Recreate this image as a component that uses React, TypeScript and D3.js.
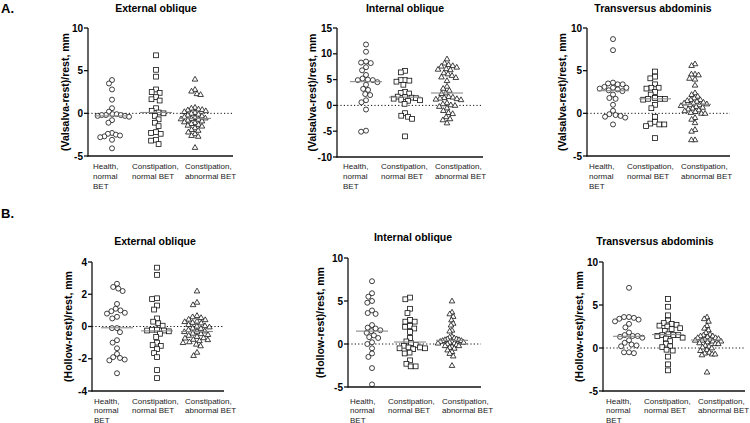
import React from "react";
import * as d3 from "d3";

const categories: string[][] = [
  ["Health,", "normal", "BET"],
  ["Constipation,", "normal BET"],
  ["Constipation,", "abnormal BET"],
];
const muscles = ["External oblique", "Internal oblique", "Transversus abdominis"];
const yLabelA = "(Valsalva-rest)/rest, mm";
const yLabelB = "(Hollow-rest)/rest, mm";
const ticksA1 = [-5, 0, 5, 10];
const ticksA2 = [-10, -5, 0, 5, 10, 15];
const ticksB1 = [-4, -2, 0, 2, 4];
const ticks5 = [-5, 0, 5, 10];

// A. Valsalva — External oblique
const a1Health = [3.9, 3.5, 2.8, 1.6, 0.6, 0.2, -0.1, -0.1, -0.2, -0.2, -0.2, -0.3, -0.3, -0.4, -0.8, -1.1, -2.3, -2.4, -2.5, -2.6, -2.7, -2.8, -3.1, -4.1];
const a1Normal = [6.8, 5.1, 4.3, 2.8, 2.5, 2.4, 1.9, 1.65, 1.5, 0.6, 0.3, 0.1, 0.0, -0.3, -0.7, -1.1, -1.5, -2.2, -2.3, -2.4, -3.1, -3.2, -3.6];
const a1Abn = [4.0, 2.8, 2.6, 2.3, 2.2, 0.7, 0.6, 0.5, 0.45, 0.4, 0.3, 0.2, 0.1, 0.0, -0.1, -0.2, -0.3, -0.4, -0.5, -0.55, -0.6, -0.65, -0.7, -0.8, -0.9, -1.0, -1.1, -1.2, -1.3, -1.4, -1.5, -1.7, -1.9, -2.0, -2.2, -2.4, -2.6, -2.7, -4.0];
const a1Median = [-0.3, 0.1, -0.6];

// A. Valsalva — Internal oblique
const a2Health = [11.8, 10.4, 8.5, 8.3, 8.2, 7.4, 6.8, 5.9, 5.2, 5.0, 4.9, 4.9, 4.5, 4.0, 3.2, 3.0, 2.2, 2.0, 1.0, 0.6, -0.8, -4.9, -5.1];
const a2Normal = [6.7, 6.4, 4.9, 4.9, 4.8, 4.6, 4.0, 2.6, 2.4, 2.3, 1.7, 1.6, 1.5, 1.4, 1.3, 1.1, 1.0, 0.9, 0.3, -1.5, -2.0, -2.2, -2.6, -6.0];
const a2Abn = [9.0, 8.2, 7.9, 7.7, 7.6, 7.4, 7.1, 7.0, 6.9, 6.3, 6.1, 5.8, 5.5, 5.4, 4.8, 3.7, 3.3, 2.9, 2.4, 2.3, 1.7, 1.6, 1.5, 1.4, 1.3, 1.2, 1.1, 0.5, 0.3, 0.1, 0.0, -0.2, -0.5, -1.0, -1.4, -1.6, -2.2, -2.6, -2.8, -3.4];
const a2Median = [4.6, 1.6, 2.4];

// A. Valsalva — Transversus abdominis
const a3Health = [8.7, 7.4, 3.6, 3.5, 3.4, 3.4, 3.1, 3.0, 3.0, 2.9, 2.8, 2.7, 2.6, 2.2, 1.8, 1.7, 1.0, 0.3, -0.1, -0.2, -0.3, -0.4, -0.5, -1.3];
const a3Normal = [4.9, 4.3, 4.1, 3.4, 3.0, 3.0, 2.9, 2.5, 2.2, 1.8, 1.7, 1.7, 1.7, 1.6, 1.0, 0.6, -0.4, -1.0, -1.2, -1.3, -1.3, -1.5, -2.9];
const a3Abn = [5.8, 5.6, 4.6, 4.6, 4.5, 4.1, 4.0, 3.3, 2.4, 2.2, 2.0, 1.8, 1.6, 1.6, 1.5, 1.4, 1.3, 1.2, 1.2, 1.1, 1.0, 1.0, 0.9, 0.8, 0.7, 0.6, 0.5, 0.4, 0.3, 0.2, 0.1, 0.0, 0.0, -0.5, -0.7, -1.1, -1.9, -2.1, -3.1, -3.1];
const a3Median = [2.65, 1.7, 1.05];

// B. Hollow — External oblique
const b1Health = [2.65, 2.45, 2.35, 2.2, 1.4, 1.1, 1.0, 0.95, 0.85, 0.8, 0.6, 0.5, -0.1, -0.1, -0.35, -0.85, -1.0, -1.35, -1.7, -1.9, -1.95, -2.05, -2.1, -2.9];
const b1Normal = [3.65, 3.2, 1.75, 1.7, 1.3, 1.05, 0.5, 0.3, 0.2, 0.05, -0.2, -0.2, -0.25, -0.25, -0.3, -0.45, -0.65, -1.0, -1.15, -1.2, -1.4, -1.65, -1.9, -2.7, -3.2];
const b1Abn = [2.2, 1.5, 1.35, 0.68, 0.6, 0.55, 0.45, 0.42, 0.33, 0.3, 0.25, 0.22, 0.12, 0.05, 0.02, -0.03, -0.1, -0.12, -0.2, -0.28, -0.3, -0.32, -0.42, -0.45, -0.5, -0.55, -0.62, -0.7, -0.72, -0.8, -0.82, -0.88, -0.95, -1.0, -1.1, -1.2, -1.6, -1.8];
const b1Median = [-0.08, -0.27, -0.31];

// B. Hollow — Internal oblique
const b2Health = [7.3, 5.9, 5.5, 5.0, 4.8, 3.9, 3.6, 3.5, 2.2, 1.9, 1.8, 1.6, 1.5, 1.3, 1.0, 0.8, 0.7, 0.2, 0.0, -0.5, -1.1, -1.5, -2.8, -4.7];
const b2Normal = [5.4, 5.2, 4.1, 3.6, 2.8, 2.6, 2.6, 2.1, 2.0, 1.8, 1.4, 0.7, 0.3, 0.1, -0.1, -0.2, -0.4, -0.4, -0.5, -0.5, -0.6, -1.0, -1.1, -1.9, -2.3, -2.6, -2.6];
const b2Abn = [5.0, 3.7, 3.5, 3.2, 2.8, 2.4, 2.2, 1.6, 1.5, 0.9, 0.8, 0.7, 0.6, 0.6, 0.5, 0.5, 0.4, 0.4, 0.3, 0.3, 0.2, 0.2, 0.1, 0.1, 0.0, -0.1, -0.2, -0.2, -0.3, -0.4, -0.5, -0.7, -0.9, -1.1, -1.4, -2.5];
const b2Median = [1.5, 0.23, 0.43];

// B. Hollow — Transversus abdominis
const b3Health = [7.0, 3.6, 3.6, 3.5, 3.4, 3.3, 3.1, 2.8, 2.4, 1.8, 1.5, 1.4, 1.4, 1.3, 1.2, 0.9, 0.6, 0.4, 0.3, 0.2, -0.5, -0.5, -0.6];
const b3Normal = [5.7, 4.8, 3.8, 3.2, 2.9, 2.8, 2.7, 2.6, 2.5, 2.3, 2.2, 2.0, 1.6, 1.5, 1.5, 1.5, 1.4, 1.2, 1.1, 0.8, 0.5, 0.2, 0.1, -0.2, -0.3, -1.0, -1.9, -2.6];
const b3Abn = [3.6, 3.4, 3.1, 2.6, 2.3, 2.1, 1.8, 1.6, 1.5, 1.4, 1.4, 1.3, 1.2, 1.2, 1.1, 1.0, 1.0, 0.9, 0.9, 0.8, 0.8, 0.7, 0.6, 0.5, 0.5, 0.3, 0.2, 0.1, 0.0, -0.2, -0.3, -0.5, -0.6, -0.7, -0.7, -0.8, -2.8];
const b3Median = [1.36, 1.56, 0.93];

type Panel = {
  title: string; ylabel: string; domain: [number, number]; ticks: number[];
  data: number[][]; med: number[];
  ax: number; end: number; top: number; bottom: number;
  centers: number[]; labelX: number[]; labelY: number[];
  titleX: number; titleY: number; ylabX: number;
};

const rowA = [168.5, 178.5, 188.5];
const rowB = [403.5, 413, 422.5];

const panels: Panel[] = [
  { title: muscles[0], ylabel: yLabelA, domain: [-5, 10], ticks: ticksA1, data: [a1Health, a1Normal, a1Abn], med: a1Median,
    ax: 88, end: 233, top: 28, bottom: 156, centers: [112, 156, 195], labelX: [93, 132, 185], labelY: rowA, titleX: 156, titleY: 12, ylabX: 65 },
  { title: muscles[1], ylabel: yLabelA, domain: [-10, 15], ticks: ticksA2, data: [a2Health, a2Normal, a2Abn], med: a2Median,
    ax: 337, end: 483, top: 28, bottom: 157, centers: [366, 405, 447], labelX: [343, 381, 435], labelY: rowA, titleX: 405, titleY: 12, ylabX: 312 },
  { title: muscles[2], ylabel: yLabelA, domain: [-5, 10], ticks: ticks5, data: [a3Health, a3Normal, a3Abn], med: a3Median,
    ax: 587, end: 730, top: 28, bottom: 156, centers: [613, 655, 695], labelX: [589, 627, 681], labelY: rowA, titleX: 653, titleY: 12, ylabX: 562 },
  { title: muscles[0], ylabel: yLabelB, domain: [-4, 4], ticks: ticksB1, data: [b1Health, b1Normal, b1Abn], med: b1Median,
    ax: 92, end: 224, top: 262, bottom: 391, centers: [117, 157, 197], labelX: [94, 132, 185], labelY: rowB, titleX: 155, titleY: 245, ylabX: 68 },
  { title: muscles[1], ylabel: yLabelB, domain: [-5, 10], ticks: ticks5, data: [b2Health, b2Normal, b2Abn], med: b2Median,
    ax: 348, end: 481, top: 258, bottom: 387, centers: [372, 410, 452], labelX: [350, 388, 442], labelY: rowB, titleX: 413, titleY: 241, ylabX: 320 },
  { title: muscles[2], ylabel: yLabelB, domain: [-5, 10], ticks: ticks5, data: [b3Health, b3Normal, b3Abn], med: b3Median,
    ax: 603, end: 745, top: 262, bottom: 391, centers: [629, 668, 707], labelX: [606, 644, 698], labelY: rowB, titleX: 655, titleY: 245, ylabX: 579 },
];

const FONT = "'Liberation Sans', Arial, Helvetica, sans-serif";
const D = 5;
const MAXHALF = [17, 15, 14];

function swarm(values: number[], y: (v: number) => number, cx: number, maxHalf: number) {
  const pts = values.map((v) => ({ v, y: y(v), x: cx }));
  const order = [...pts].sort((a, b) => b.v - a.v);
  const placed: { x: number; y: number }[] = [];
  for (const p of order) {
    const blocked: [number, number][] = [];
    for (const q of placed) {
      const dy = Math.abs(q.y - p.y);
      if (dy < D) {
        const w = Math.sqrt(D * D - dy * dy);
        blocked.push([q.x - w, q.x + w]);
      }
    }
    const cands = [cx, ...blocked.flatMap((b) => [b[0], b[1]])];
    cands.sort((a, b) => Math.abs(a - cx) - Math.abs(b - cx));
    for (const c of cands) {
      if (!blocked.some((b) => c > b[0] + 1e-6 && c < b[1] - 1e-6)) {
        p.x = c;
        break;
      }
    }
    placed.push(p);
  }
  const maxOff = d3.max(pts, (p) => Math.abs(p.x - cx)) || 0;
  if (maxOff > maxHalf) {
    const k = maxHalf / maxOff;
    pts.forEach((p) => { p.x = cx + (p.x - cx) * k; });
  }
  return pts;
}

function Marker({ kind, x, y }: { kind: number; x: number; y: number }) {
  const common = { fill: "#fff", stroke: "#111", strokeWidth: 0.8 };
  if (kind === 0) return <circle cx={x} cy={y} r={2.5} {...common} />;
  if (kind === 1) return <rect x={x - 2.4} y={y - 2.4} width={4.8} height={4.8} {...common} />;
  const h = 4.8, w = 5.6;
  return <path d={`M${x},${y - h * 0.6}L${x + w / 2},${y + h * 0.4}L${x - w / 2},${y + h * 0.4}Z`} {...common} />;
}

function PanelView({ p }: { p: Panel }) {
  const y = d3.scaleLinear().domain(p.domain).range([p.bottom, p.top]);
  const y0 = y(0);
  return (
    <g>
      <text x={p.titleX} y={p.titleY} textAnchor="middle" fontWeight="bold" fontSize={10.5} fontFamily={FONT}>{p.title}</text>
      <text transform={`translate(${p.ylabX},${(p.top + p.bottom) / 2}) rotate(-90)`} textAnchor="middle" dominantBaseline="central"
        fontWeight="bold" fontSize={10.5} fontFamily={FONT}>{p.ylabel}</text>
      <line x1={p.ax} x2={p.end} y1={y0} y2={y0} stroke="#111" strokeWidth={1} strokeDasharray="1.2,2.2" />
      {p.data.map((vals, ci) =>
        swarm(vals, y, p.centers[ci], MAXHALF[ci]).map((pt, i) => <Marker key={`${ci}-${i}`} kind={ci} x={pt.x} y={pt.y} />)
      )}
      {p.med.map((m, ci) => (
        <line key={`m${ci}`} x1={p.centers[ci] - 16} x2={p.centers[ci] + 16} y1={y(m)} y2={y(m)} stroke="#8a8a8a" strokeWidth={1.1} />
      ))}
      <line x1={p.ax} x2={p.ax} y1={p.top} y2={p.bottom + 0.6} stroke="#111" strokeWidth={1.3} />
      <line x1={p.ax - 0.6} x2={p.end} y1={p.bottom} y2={p.bottom} stroke="#111" strokeWidth={1.3} />
      {p.ticks.map((t) => (
        <g key={t}>
          <line x1={p.ax - 4} x2={p.ax} y1={y(t)} y2={y(t)} stroke="#111" strokeWidth={1.3} />
          <text x={p.ax - 5} y={y(t)} dy="0.35em" textAnchor="end" fontWeight="bold" fontSize={10} fontFamily={FONT}>{String(t)}</text>
        </g>
      ))}
      {categories.map((lines, ci) => (
        <text key={`c${ci}`} fontSize={8} fontFamily={FONT} fill="#222">
          {lines.map((ln, li) => (
            <tspan key={li} x={p.labelX[ci]} y={p.labelY[li]}>{ln}</tspan>
          ))}
        </text>
      ))}
    </g>
  );
}

export default function App() {
  return (
    <svg width={750} height={423} style={{ position: "absolute", left: 0, top: 0, background: "#fff", display: "block" }}>
      <rect width={750} height={423} fill="#fff" />
      <text x={1} y={13} fontWeight="bold" fontSize={13} fontFamily={FONT}>A.</text>
      <text x={1} y={218} fontWeight="bold" fontSize={13} fontFamily={FONT}>B.</text>
      {panels.map((p, i) => <PanelView key={i} p={p} />)}
    </svg>
  );
}
